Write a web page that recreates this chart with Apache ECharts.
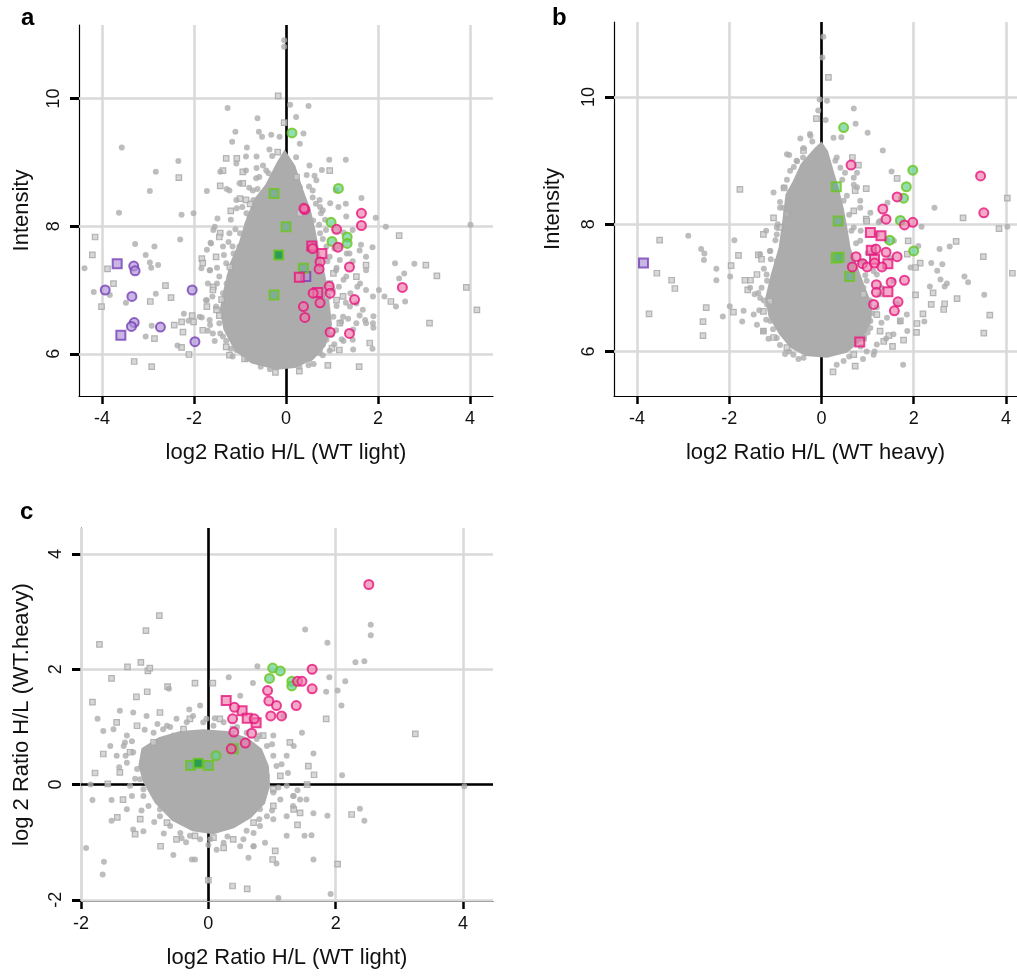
<!DOCTYPE html>
<html>
<head>
<meta charset="utf-8">
<script src="https://cdn.jsdelivr.net/npm/echarts@6/dist/echarts.min.js"></script>
<style>
  html, body { margin: 0; background: #fff; }
  #chart { width: 1017px; height: 976px; }
</style>
</head>
<body>
<div id="chart"></div>
<script>
// ---- panel a : log2 ratio (WT light) vs intensity ----
const xTicksA = [-4, -2, 0, 2, 4];
const yTicksA = [6, 8, 10];
// outline of the dense cloud
const coreA = [[-0.03,9.2],[-0.2,9.0],[-0.45,8.65],[-0.7,8.42],[-0.9,8.05],[-1.02,7.75],[-1.22,7.42],[-1.36,7.0],[-1.44,6.69],[-1.36,6.38],[-1.12,6.05],[-0.75,5.85],[-0.21,5.75],[0.2,5.78],[0.6,5.91],[0.86,6.12],[1.0,6.45],[0.95,6.79],[0.86,7.21],[0.72,7.63],[0.64,7.94],[0.54,8.25],[0.38,8.56],[0.2,8.95]];
const grayDotsA = [[-0.04,10.91],[-0.04,10.81],[-1.27,9.85],[0.09,9.9],[0.49,9.88],[-0.62,9.69],[0.22,9.71],[-1.1,9.48],[-0.59,9.48],[0.38,9.45],[-0.52,9.4],[-0.32,9.43],[-0.14,9.4],[-1.17,9.32],[0.3,9.29],[-3.57,9.23],[-0.85,9.23],[-0.36,9.2],[-0.87,9.09],[-0.64,9.09],[-2.34,9.02],[0.51,8.95],[0.94,9.04],[1.3,9.04],[-2.83,8.85],[-1.43,8.85],[-0.64,8.91],[-0.38,8.83],[0.62,8.79],[0.78,8.88],[-2.96,8.55],[-1.72,8.55],[-1.29,8.58],[-0.62,8.58],[0.96,8.36],[1.3,8.35],[1.64,8.44],[0.58,8.45],[-3.63,8.21],[-2.27,8.18],[-2.01,8.2],[-1.07,8.28],[-1.49,8.12],[1.14,8.3],[0.76,8.2],[1.95,8.13],[2.17,7.99],[4.01,8.02],[-3.28,7.72],[-2.3,7.79],[-2.86,7.68],[1.88,7.67],[1.63,7.71],[-3.05,7.55],[-1.64,7.74],[-1.72,7.63],[1.74,7.52],[-4.38,7.34],[-2.96,7.43],[-2.78,7.39],[-2.93,7.35],[-1.84,7.34],[2.37,7.42],[2.79,7.41],[2.46,7.18],[2.57,7.26],[-4.18,6.97],[-3.83,6.92],[-2.83,6.94],[-3.48,6.8],[2.02,7.0],[2.14,6.9],[2.59,6.82],[2.39,6.74],[-2.22,6.63],[-1.83,6.57],[-2.12,6.52],[-2.92,6.44],[-1.7,6.36],[1.9,6.41],[1.9,6.59],[-3.05,6.27],[-2.36,6.13],[1.88,6.08],[0.49,5.82],[-1.2,6.08],[1.21,6.23],[1.46,6.07],[1.32,7.57],[1.61,7.1],[1.39,6.74],[1.72,6.53],[1.46,6.38],[-1.58,7.94],[-1.65,7.31],[-1.72,6.84],[-1.43,6.32],[-1.14,6.22],[-1.29,7.1],[-1.14,7.57],[-1.0,7.89],[-0.86,8.2],[-0.71,8.41],[0.74,7.89],[0.88,7.68],[1.17,7.47],[1.25,7.16],[1.03,6.58],[0.88,6.22],[0.74,6.06],[0.59,8.09],[0.74,8.3],[0.3,8.61],
  [-1.55,7.99],[-1.63,7.73],[-1.37,7.68],[-1.23,7.89],[-1.16,7.68],[-1.3,7.42],[-1.08,7.47],[-1.66,7.31],[-1.45,7.21],[-1.23,7.21],[-1.37,6.95],[-1.16,7.0],[-1.74,6.84],[-1.52,6.74],[-1.3,6.74],[-1.88,6.58],[-1.66,6.53],[-1.45,6.48],[-1.59,6.32],[-1.37,6.27],[-1.16,6.32],[-1.08,6.06],[-0.87,6.01],[-0.65,5.96],[-1.16,5.96],[-0.43,5.85],[-0.79,6.11],[-1.01,7.68],[-0.87,7.89],[-0.79,8.15],[-0.65,8.25],[-1.08,8.41],[-1.23,8.56],[-1.01,8.67],[-0.72,8.56],[-0.58,8.77],[-0.43,8.87],[-0.87,8.87],[-1.08,8.98],
  [0.58,8.56],[0.73,8.41],[0.8,8.25],[0.66,8.72],[1.09,8.56],[0.87,7.94],[1.31,8.15],[1.45,7.94],[1.16,7.68],[1.38,7.57],[1.6,7.62],[0.95,7.52],[1.09,7.31],[1.31,7.21],[1.74,7.31],[1.02,7.0],[1.53,6.79],[1.74,7.0],[1.89,6.9],[1.67,6.69],[1.24,6.58],[1.53,6.48],[1.74,6.48],[1.09,6.37],[0.73,6.01],[0.51,5.91],[0.29,5.8],[1.89,6.48],[1.45,6.22],
  [-1.7,7.1],[-1.5,7.1],[-1.6,6.9],[-1.65,6.45],[-1.55,6.2],[-1.5,7.35],[-1.35,7.55],[-1.25,7.75],[-1.1,7.95],[-1.2,8.1],[-0.95,8.3],[-0.8,8.6],[-0.65,8.75],[-0.5,8.95],[-0.3,9.1],[-0.95,6.1],[-0.85,5.92],[-0.55,5.8],[-0.35,5.76],[-1.3,6.2],
  [1.15,7.05],[1.1,6.75],[1.3,6.8],[1.2,6.5],[1.35,6.55],[1.0,6.3],[0.95,6.05],[0.8,5.98],[0.6,5.84],[1.1,7.35],[0.9,7.45],[1.05,7.65],[0.8,7.8],[0.72,8.02],[0.85,8.1],[0.65,8.35],[0.5,8.62],[0.45,8.8],[0.22,9.08],[1.25,7.9],[1.45,7.45],[1.55,7.05],[1.4,6.95],[1.6,6.6],[1.25,6.2],[1.05,6.15]];
const graySquaresA = [[-0.17,10.04],[-0.04,9.62],[-0.18,9.16],[-1.3,9.06],[-1.07,9.06],[-2.33,8.76],[-0.94,8.85],[-1.43,8.63],[-0.94,8.67],[-1.0,8.43],[-1.2,8.24],[-4.15,7.83],[2.46,7.85],[-4.21,7.55],[1.74,7.39],[-3.88,7.33],[-1.83,7.49],[-1.81,7.42],[3.04,7.39],[3.28,7.22],[-3.75,7.1],[-2.62,7.07],[-2.95,6.82],[-2.5,6.88],[-4.01,6.74],[3.92,7.04],[2.28,6.82],[4.15,6.69],[-2.04,6.6],[-2.27,6.5],[-2.01,6.5],[-2.43,6.45],[3.12,6.48],[-2.24,6.34],[-2.86,6.24],[-2.27,6.1],[-2.11,5.99],[-3.3,5.88],[-2.92,5.8],[1.59,5.8],[0.91,5.82],[0.29,5.73],[-0.23,5.71],[-0.9,5.92],[-1.23,5.98],[1.0,6.09],[-1.43,7.89],[-1.58,7.05],[-1.51,6.69],[-1.72,6.74],[-1.22,7.36],[-0.78,8.35],[1.03,7.26],[1.1,6.84],[1.17,6.48],[0.3,8.2],[0.23,8.77],
  [-1.45,7.83],[-1.52,7.52],[-1.59,7.0],[-1.81,6.37],[-1.3,6.11],[-0.87,8.41],[-1.37,8.87],[1.09,7.94],[1.53,7.21],[1.24,6.9],[1.16,6.06],[1.82,6.17],[0.95,8.87],[-1.45,6.6],[-1.4,6.85],[0.9,6.9],[0.95,7.1]];
const pinkDotsA = [[0.41,8.26],[0.39,8.28],[1.64,8.2],[1.64,8.01],[1.1,7.95],[0.58,7.65],[1.13,7.67],[0.74,7.44],[0.72,7.33],[1.38,7.36],[2.53,7.04],[0.94,7.06],[0.96,6.95],[0.59,6.95],[1.49,6.85],[0.74,6.8],[0.38,6.74],[0.41,6.57],[0.96,6.34],[1.38,6.32]];
const pinkSquaresA = [[0.56,7.69],[0.78,7.57],[0.29,7.2],[0.69,6.96]];
const greenDotsA = [[0.13,9.46],[1.14,8.59],[0.98,8.06],[1.0,7.76],[1.33,7.83],[1.33,7.73]];
const greenSquaresA = [[-0.26,8.51],[0.0,7.99],[0.38,7.34],[-0.26,6.92]];
const darkGreenSquaresA = [[-0.16,7.55]];
const purpleDotsA = [[-3.31,7.375],[-3.28,7.3],[-3.93,7.0],[-3.35,6.9],[-2.04,7.0],[-3.3,6.49],[-3.36,6.43],[-2.73,6.42],[-1.98,6.19]];
const purpleSquaresA = [[-3.67,7.41],[-3.59,6.29],[0.43,7.21]];

// ---- panel b : log2 ratio (WT heavy) vs intensity ----
const xTicksB = [-4, -2, 0, 2, 4];
const yTicksB = [6, 8, 10];
const coreB = [[0.0,9.3],[-0.15,9.2],[-0.45,8.95],[-0.62,8.68],[-0.78,8.47],[-0.85,8.05],[-0.93,7.63],[-1.1,7.21],[-1.22,6.84],[-1.15,6.55],[-0.92,6.27],[-0.68,6.06],[-0.35,5.93],[0.12,5.9],[0.55,5.98],[0.87,6.17],[1.08,6.46],[1.1,6.74],[0.95,7.0],[0.79,7.32],[0.63,7.63],[0.56,7.95],[0.48,8.26],[0.37,8.58],[0.24,8.9],[0.14,9.15]];
const grayDotsB = [[0.04,10.95],[0.02,10.62],[-0.04,9.96],[0.12,9.94],[0.7,9.82],[-0.07,9.79],[0.09,9.64],[0.74,9.58],[0.43,9.37],[1.0,9.44],[-0.46,9.35],[-0.24,9.39],[1.33,9.16],[-0.7,9.09],[0.77,8.81],[0.51,8.81],[1.52,8.83],[-1.04,8.5],[0.7,8.62],[1.43,8.34],[2.45,8.26],[2.17,7.96],[4.03,7.96],[1.06,8.18],[1.24,8.03],[-2.89,7.82],[-1.89,7.75],[2.1,7.66],[2.78,7.65],[2.56,7.61],[-2.61,7.61],[-2.54,7.54],[-2.55,7.44],[2.38,7.39],[2.62,7.37],[2.51,7.27],[-2.28,7.3],[-1.98,7.18],[-2.28,7.12],[-1.37,6.92],[3.1,7.18],[3.18,7.09],[2.58,7.13],[2.72,7.07],[2.67,7.02],[2.35,7.02],[3.53,6.89],[1.64,6.75],[2.23,6.47],[1.7,6.47],[-1.99,6.71],[-1.69,6.64],[-2.14,6.55],[-1.72,6.47],[1.86,6.32],[1.77,5.79],[-0.79,5.96],[1.13,5.95],[0.84,8.37],[1.2,7.84],[1.57,7.74],[1.2,7.21],[0.91,7.0],[1.06,6.37],[0.55,6.05],[1.49,7.47],[1.93,7.32],[-0.97,7.84],[-1.12,7.58],[-1.19,7.21],[-0.97,6.53],[-0.83,8.26],[-0.61,8.47],[-0.54,9.0],[-0.39,8.79],
  [-0.82,8.58],[-0.97,7.95],[-1.11,7.58],[-1.33,7.53],[-0.97,7.42],[-1.18,7.11],[-1.55,7.0],[-1.33,6.84],[-1.04,7.0],[-1.47,6.58],[-1.11,6.48],[-1.26,6.32],[-0.97,6.21],[-0.82,6.27],[-0.61,5.95],[-0.39,5.9],[-1.18,6.74],[-1.4,6.42],[-0.75,9.1],[-0.53,8.99],[-0.39,9.2],[-0.25,9.42],[-0.68,8.84],[-0.46,8.73],[-0.9,8.26],[-0.75,8.16],[-0.82,7.74],[-0.97,7.32],
  [0.7,8.73],[0.77,8.58],[0.48,8.37],[0.84,8.26],[0.7,7.95],[0.84,7.74],[1.13,7.58],[0.91,7.42],[0.7,7.21],[0.98,7.11],[1.2,6.69],[0.84,6.58],[1.06,6.48],[0.91,6.21],[1.2,6.11],[0.98,6.0],[0.48,5.85],[0.33,5.79],[1.42,6.53],[1.56,6.27],[1.85,6.58],[1.27,6.9],[1.56,7.11],[0.62,6.58],[1.13,7.26],[1.42,7.74],[1.27,8.05],[0.41,8.89],[0.33,9.05],[0.26,9.36],
  [-1.3,7.0],[-1.25,7.3],[-1.1,7.45],[-1.0,7.75],[-0.95,8.0],[-0.9,8.35],[-0.75,8.7],[-0.6,8.9],[-0.4,9.05],[-1.25,6.8],[-1.2,6.5],[-1.05,6.35],[-0.9,6.1],[-0.7,6.0],[-0.5,5.88],[-1.35,6.65],[-1.45,6.9],[-1.15,6.2],[-0.2,9.3],[-1.2,7.9],
  [1.05,6.8],[1.1,6.6],[1.0,6.3],[0.85,6.08],[0.6,5.92],[0.95,7.2],[0.85,7.4],[0.75,7.7],[0.65,7.9],[0.6,8.15],[0.55,8.45],[0.45,8.7],[0.3,9.0],[1.3,6.45],[1.4,6.2],[1.15,6.0],[0.9,5.88],[1.0,7.55],[0.85,7.9],[1.3,7.0]];
const graySquaresB = [[0.15,10.31],[-0.11,9.66],[0.67,9.05],[0.8,8.93],[1.64,8.72],[-1.77,8.55],[-0.81,8.57],[0.97,8.56],[0.73,8.53],[4.03,8.41],[3.07,8.1],[3.85,7.93],[0.97,8.08],[-3.51,7.75],[1.88,7.74],[2.92,7.73],[-1.8,7.51],[-1.37,7.52],[-1.3,7.45],[2.14,7.39],[3.51,7.49],[2.04,7.32],[4.14,7.23],[-3.57,7.23],[-1.96,7.35],[-3.25,7.12],[-3.18,6.99],[-1.66,7.12],[-1.54,7.12],[-1.6,6.97],[2.42,6.92],[2.04,6.89],[2.94,6.83],[2.38,6.74],[2.67,6.75],[2.65,6.66],[3.65,6.57],[2.2,6.59],[2.07,6.44],[-2.5,6.69],[-3.74,6.59],[-1.91,6.62],[-2.57,6.47],[-2.57,6.25],[-1.26,6.32],[-1.04,6.22],[3.52,6.29],[2.06,6.3],[1.46,6.25],[1.54,6.08],[0.73,5.77],[0.25,5.68],[0.7,8.21],[1.86,7.53],[1.2,6.58],[0.91,6.21],[1.35,6.16],[1.78,6.18],[-0.9,7.95],[-1.12,6.79],[-0.75,8.16],[-0.39,9.16],
  [-1.26,7.84],[-1.4,7.21],[-1.26,6.63],[-0.75,6.06],[-1.04,8.1],[0.98,8.05],[0.91,6.9],[1.27,6.32],[1.71,6.48],[0.7,5.95]];
const pinkDotsB = [[0.64,8.93],[3.45,8.76],[3.52,8.18],[1.64,8.43],[1.33,8.24],[1.4,8.08],[1.98,8.03],[1.8,7.99],[1.18,7.61],[1.4,7.56],[1.64,7.49],[0.75,7.49],[0.67,7.33],[0.89,7.38],[0.99,7.33],[1.15,7.39],[1.31,7.33],[1.8,7.12],[1.51,7.09],[1.19,7.05],[1.19,6.93],[1.66,6.78],[1.13,6.74],[1.58,6.64]];
const pinkSquaresB = [[1.06,7.87],[1.29,7.82],[1.08,7.59],[1.15,7.45],[1.44,7.38],[1.44,6.94],[0.83,6.15]];
const greenDotsB = [[0.48,9.52],[1.98,8.85],[1.84,8.59],[1.78,8.41],[1.71,8.06],[1.48,7.75],[2.0,7.58]];
const greenSquaresB = [[0.32,8.59],[0.36,8.05],[0.32,7.47],[0.38,7.48],[0.61,7.18]];
const purpleSquaresB = [[-3.86,7.39]];

// ---- panel c : WT light vs WT heavy ----
const xTicksC = [-2, 0, 2, 4];
const yTicksC = [-2, 0, 2, 4];
const coreC = [[-1.05,0.63],[-0.78,0.82],[-0.44,0.93],[-0.08,0.96],[0.29,0.93],[0.62,0.81],[0.84,0.62],[0.95,0.32],[0.97,-0.02],[0.89,-0.33],[0.67,-0.58],[0.4,-0.76],[0.08,-0.86],[-0.25,-0.81],[-0.57,-0.63],[-0.84,-0.32],[-1.02,0.03],[-1.1,0.32]];
const grayDotsC = [[1.52,2.69],[1.87,2.46],[2.55,2.77],[2.55,2.59],[2.45,2.14],[2.31,2.12],[0.77,2.05],[0.32,1.86],[1.9,1.86],[2.15,1.79],[0.7,1.76],[2.03,1.63],[1.85,1.61],[-1.74,1.14],[-0.62,1.66],[2.09,1.37],[1.47,0.9],[1.65,0.54],[2.1,0.16],[4.02,-0.03],[-1.85,0.0],[-1.82,-0.27],[-1.52,-0.27],[-1.52,-0.63],[-1.92,-1.1],[-1.64,-1.34],[-1.66,-1.56],[-0.55,-1.22],[-0.26,-1.3],[-0.21,-1.3],[1.1,-1.97],[1.92,-1.9],[1.65,-1.3],[0.63,-1.27],[1.07,-1.37],[2.38,-0.42],[2.45,-0.63],[1.87,-0.54],[1.65,-0.5],[1.51,-0.89],[1.62,-0.88],[1.23,-0.89],[0.89,-1.01],[0.71,-1.07],[-0.42,-0.93],[-1.02,-0.81],[-1.18,-0.78],[-1.28,-0.43],[-1.02,-0.08],[-1.54,0.67],[-1.65,0.93],[-1.39,1.28],[-1.31,0.73],[1.23,0.5],[1.34,0.67],[1.02,0.85],[1.18,1.19],[0.5,1.54],[-0.13,1.37],[-0.03,1.14],[1.34,-0.2],[1.44,-0.26],[1.02,-0.6],[0.81,-0.43],[0.92,0.15],[-0.76,-0.43],[-0.81,0.21],[-0.97,0.5],[-0.71,0.96],[-0.55,0.85],
  [-1.49,0.96],[-1.28,0.85],[-1.33,0.67],[-1.18,0.56],[-1.44,0.5],[-1.28,0.38],[-1.12,0.27],[-1.07,0.09],[-1.23,-0.02],[-1.02,-0.2],[-0.94,-0.37],[-0.76,-0.55],[-0.6,-0.72],[-0.86,0.9],[-0.65,1.02],[-0.5,1.14],[-0.34,1.08],[-0.97,1.19],[-1.18,1.25],[-0.24,1.19],[-0.08,1.08],[0.08,1.02],[0.24,1.08],[0.6,0.9],[0.76,0.79],[0.92,0.67],[1.02,0.5],[1.07,0.32],[1.23,-0.02],[1.33,-0.2],[1.13,-0.26],[0.92,-0.55],[0.81,-0.72],[0.71,-0.84],[0.55,-0.95],[0.24,-1.01],[0.03,-0.95],[-0.13,-0.95],[-0.29,-0.89],[-0.44,-0.84],[1.02,-0.14],[1.33,-0.37],[1.54,-0.26],[1.23,-0.55],[0.71,-1.07],[0.5,-1.07],[0.13,-1.13],
  [-1.3,0.5],[-1.2,0.75],[-1.0,0.95],[-0.8,1.05],[-0.6,1.0],[-1.15,0.1],[-1.2,-0.2],[-1.05,-0.45],[-0.85,-0.65],[-0.7,-0.85],[-0.35,-1.0],[0.0,-1.05],[0.3,-0.9],[0.6,-0.8],[0.8,-0.6],[1.0,-0.45],[1.1,-0.05],[1.15,0.35],[1.0,0.7],[0.8,0.85],[0.45,1.0],[0.1,1.15],[-0.3,1.3],[1.25,0.2],[1.4,-0.1],[-1.4,0.3]];
const graySquaresC = [[-0.77,2.93],[-0.98,2.67],[-1.71,2.43],[-1.06,2.12],[-1.27,2.04],[-0.95,1.97],[-0.92,2.02],[-1.52,1.84],[-0.21,1.76],[0.07,1.76],[-1.82,1.43],[-1.13,1.52],[-0.96,1.61],[-0.64,1.7],[1.85,1.14],[3.25,0.88],[1.57,0.32],[1.66,0.17],[1.55,0.0],[-1.78,0.2],[-1.58,0.01],[-1.43,-0.57],[-0.75,-1.07],[0.0,-1.66],[0.38,-1.76],[0.61,-1.81],[2.03,-1.38],[1.01,-1.3],[2.25,-0.52],[1.4,-0.7],[1.05,-1.15],[0.24,-1.1],[0.08,-0.92],[-0.21,-0.89],[-1.15,-0.86],[-1.34,-0.26],[-1.07,-0.6],[-1.65,0.53],[-1.44,1.08],[-1.23,0.56],[1.28,0.73],[0.86,0.85],[0.18,1.14],[-0.29,1.14],[1.34,-0.43],[0.71,-0.66],[1.02,-0.08],[-0.65,-0.66],[-0.86,0.73],[-0.39,0.96],
  [-1.12,1.02],[-1.39,0.21],[-0.76,1.25],[0.39,0.96],[1.13,0.15],[1.02,-0.37],[0.39,-0.95],[1.44,-0.49],[-0.5,-0.95]];
const pinkDotsC = [[2.52,3.47],[1.63,2.0],[1.63,1.66],[1.4,1.79],[1.47,1.79],[0.93,1.63],[0.95,1.45],[1.07,1.37],[1.38,1.37],[0.98,1.19],[1.15,1.19],[0.41,1.34],[0.38,1.14],[0.72,1.14],[0.4,0.91],[0.68,0.89],[0.58,0.72],[0.36,0.62]];
const pinkSquaresC = [[0.28,1.46],[0.53,1.28],[0.61,1.15],[0.75,1.07]];
const greenDotsC = [[1.01,2.02],[1.13,1.97],[0.96,1.84],[1.31,1.79],[1.31,1.71],[0.12,0.5]];
const greenSquaresC = [[0.39,0.62],[-0.28,0.33],[0.0,0.33]];
const darkGreenSquaresC = [[-0.16,0.37]];

// ---- styles ----
const FONT = 'Liberation Sans, Arial, sans-serif';
const GRID_COLOR = '#d9d9d9';
const GRAY = '#acacac';

function xAxis(gi, min, max, ticks, name) {
  return {
    type: 'value', gridIndex: gi, min: min, max: max,
    name: name, nameLocation: 'middle', nameGap: 46,
    nameTextStyle: { fontSize: 22, color: '#111', fontFamily: FONT },
    axisLine: { onZero: false, lineStyle: { color: '#000', width: 1.2 } },
    axisTick: { show: true, customValues: ticks, length: 8, lineStyle: { color: '#000', width: 2.5 } },
    axisLabel: { customValues: ticks, fontSize: 18, color: '#111', fontFamily: FONT, margin: 14 },
    splitLine: { show: false }
  };
}
function yAxis(gi, min, max, ticks, name, gap) {
  return {
    type: 'value', gridIndex: gi, min: min, max: max,
    name: name, nameLocation: 'middle', nameGap: gap,
    nameTextStyle: { fontSize: 22, color: '#111', fontFamily: FONT },
    axisLine: { onZero: false, lineStyle: { color: '#000', width: 1.2 } },
    axisTick: { show: true, customValues: ticks, length: 9, lineStyle: { color: '#000', width: 3 } },
    axisLabel: { customValues: ticks, rotate: 90, fontSize: 18, color: '#111', fontFamily: FONT, margin: 16 },
    splitLine: { show: false }
  };
}

// grid lines and the black zero lines, drawn as mark lines
function guides(gi, xs, ys, zeroX, zeroY) {
  const grid = xs.map(v => ({ xAxis: v })).concat(ys.map(v => ({ yAxis: v })));
  const zero = zeroX.map(v => ({ xAxis: v })).concat(zeroY.map(v => ({ yAxis: v })));
  return [
    { type: 'scatter', xAxisIndex: gi, yAxisIndex: gi, data: [], z: 1, silent: true,
      markLine: { z: 1, silent: true, symbol: 'none', label: { show: false }, animation: false,
        lineStyle: { color: GRID_COLOR, width: 2.5, type: 'solid' }, data: grid } },
    { type: 'scatter', xAxisIndex: gi, yAxisIndex: gi, data: [], z: 2, silent: true,
      markLine: { z: 2, silent: true, symbol: 'none', label: { show: false }, animation: false,
        lineStyle: { color: '#000', width: 2.6, type: 'solid' }, data: zero } }
  ];
}

function core(gi, pts) {
  return {
    type: 'custom', xAxisIndex: gi, yAxisIndex: gi, data: pts, z: 3, silent: true,
    renderItem: function (params, api) {
      if (params.dataIndex !== 0) return null;
      return { type: 'polygon', shape: { points: pts.map(p => api.coord(p)) }, style: { fill: GRAY } };
    }
  };
}

function pts(gi, data, kind, z) {
  const s = {
    grayDot:   { symbol: 'circle', size: 6, style: { color: GRAY } },
    graySq:    { symbol: 'rect', size: 5.5, style: { color: '#cdcdcd', borderColor: '#a4a4a4', borderWidth: 1.2 } },
    pinkDot:   { symbol: 'circle', size: 9, style: { color: 'rgba(240,120,170,0.8)', borderColor: '#e6157c', borderWidth: 2 } },
    pinkSq:    { symbol: 'rect', size: 9, style: { color: 'rgba(240,120,170,0.8)', borderColor: '#e6157c', borderWidth: 2 } },
    greenDot:  { symbol: 'circle', size: 9, style: { color: 'rgba(95,205,140,0.85)', borderColor: '#6cc51a', borderWidth: 2 } },
    greenSq:   { symbol: 'rect', size: 9, style: { color: 'rgba(70,175,130,0.55)', borderColor: '#6cc51a', borderWidth: 2 } },
    darkSq:    { symbol: 'rect', size: 9, style: { color: '#0b9a45', borderColor: '#6cc51a', borderWidth: 2 } },
    purpleDot: { symbol: 'circle', size: 9, style: { color: 'rgba(175,150,215,0.85)', borderColor: '#7740b5', borderWidth: 2 } },
    purpleSq:  { symbol: 'rect', size: 9, style: { color: 'rgba(175,150,215,0.85)', borderColor: '#7740b5', borderWidth: 2 } }
  }[kind];
  return { type: 'scatter', xAxisIndex: gi, yAxisIndex: gi, data: data, z: z, silent: true,
    symbol: s.symbol, symbolSize: s.size, itemStyle: s.style };
}

const series = [].concat(
  guides(0, xTicksA, yTicksA, [0], []),
  guides(1, xTicksB, yTicksB, [0], []),
  guides(2, xTicksC, yTicksC, [0], [0]),
  [
    core(0, coreA), core(1, coreB), core(2, coreC),
    pts(0, graySquaresA, 'graySq', 4), pts(0, grayDotsA, 'grayDot', 4),
    pts(1, graySquaresB, 'graySq', 4), pts(1, grayDotsB, 'grayDot', 4),
    pts(2, graySquaresC, 'graySq', 4), pts(2, grayDotsC, 'grayDot', 4),
    pts(0, purpleSquaresA, 'purpleSq', 5), pts(0, purpleDotsA, 'purpleDot', 5),
    pts(0, greenSquaresA, 'greenSq', 5), pts(0, darkGreenSquaresA, 'darkSq', 5), pts(0, greenDotsA, 'greenDot', 5),
    pts(0, pinkSquaresA, 'pinkSq', 6), pts(0, pinkDotsA, 'pinkDot', 6),
    pts(1, purpleSquaresB, 'purpleSq', 5),
    pts(1, greenSquaresB, 'greenSq', 5), pts(1, greenDotsB, 'greenDot', 5),
    pts(1, pinkSquaresB, 'pinkSq', 6), pts(1, pinkDotsB, 'pinkDot', 6),
    pts(2, greenSquaresC, 'greenSq', 5), pts(2, darkGreenSquaresC, 'darkSq', 5), pts(2, greenDotsC, 'greenDot', 5),
    pts(2, pinkSquaresC, 'pinkSq', 6), pts(2, pinkDotsC, 'pinkDot', 6)
  ]
);

const chart = echarts.init(document.getElementById('chart'));
chart.setOption({
  animation: false,
  backgroundColor: '#fff',
  grid: [
    { left: 79, top: 25, width: 414, height: 371 },
    { left: 614, top: 22, width: 403, height: 374 },
    { left: 81, top: 528, width: 412, height: 373 }
  ],
  xAxis: [
    xAxis(0, -4.5, 4.5, xTicksA, 'log2 Ratio H/L (WT light)'),
    xAxis(1, -4.5, 4.24, xTicksB, 'log2 Ratio H/L (WT heavy)'),
    xAxis(2, -2, 4.47, xTicksC, 'log2 Ratio H/L (WT light)')
  ],
  yAxis: [
    yAxis(0, 5.34, 11.15, yTicksA, 'Intensity', 46),
    yAxis(1, 5.3, 11.18, yTicksB, 'Intensity', 50),
    yAxis(2, -2.02, 4.45, yTicksC, 'log 2 Ratio H/L (WT.heavy)', 48)
  ],
  graphic: [
    { type: 'text', left: 21, top: 6, style: { text: 'a', font: 'bold 24px ' + FONT, fill: '#000' } },
    { type: 'text', left: 552, top: 6, style: { text: 'b', font: 'bold 24px ' + FONT, fill: '#000' } },
    { type: 'text', left: 20, top: 500, style: { text: 'c', font: 'bold 24px ' + FONT, fill: '#000' } }
  ],
  series: series
});
</script>
</body>
</html>
